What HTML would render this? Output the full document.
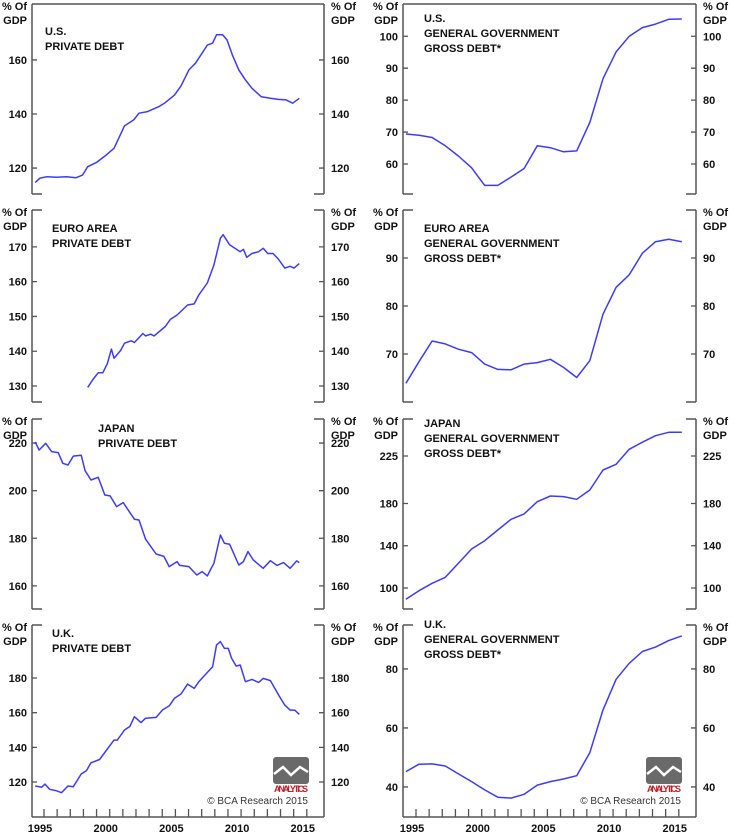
<!DOCTYPE html>
<html><head><meta charset="utf-8"><style>
html,body{margin:0;padding:0;background:#fff;}
svg{display:block;font-family:"Liberation Sans",Arial,sans-serif;}
</style></head><body>
<svg id="chart" width="733" height="834" viewBox="0 0 733 834" xmlns="http://www.w3.org/2000/svg"></svg>
<script>
// ---- data ----
const usPrivDates=[1994.1,1994.47,1995.0,1995.7,1996.5,1997.2,1997.7,1998.1,1998.75,1999.5,2000.1,2000.9,2001.6,2002.0,2002.65,2003.5,2004.0,2004.7,2005.2,2005.8,2006.3,2007.2,2007.6,2007.9,2008.36,2008.7,2009.1,2009.6,2010.1,2010.6,2011.3,2012.0,2012.6,2013.2,2013.7,2014.2];
const usPrivValues=[114.6,116.3,116.8,116.6,116.8,116.4,117.4,120.5,122,124.8,127.3,135.6,137.8,140.3,140.9,142.7,144.2,147,150.4,156.3,158.8,165.5,166.2,169.3,169.3,167.4,161.9,156.3,152.6,149.5,146.4,145.8,145.4,145.2,144,145.8];
const euPrivDates=[1998.1,1998.5,1998.9,1999.25,1999.6,1999.9,2000.1,2000.6,2000.9,2001.4,2001.65,2002.3,2002.5,2002.9,2003.15,2004.0,2004.4,2004.9,2005.7,2006.2,2006.55,2007.2,2007.7,2008.2,2008.4,2008.9,2009.7,2009.95,2010.2,2010.6,2011.1,2011.45,2011.8,2012.2,2012.6,2013.1,2013.5,2013.8,2014.2];
const euPrivValues=[129.6,131.9,133.8,133.8,136.5,140.6,138,140.2,142.3,143,142.5,145.1,144.4,144.9,144.4,147.1,149.2,150.4,153.3,153.6,156.2,159.6,164.8,172.5,173.5,170.6,168.6,169.3,167,168.1,168.6,169.6,168.1,168.1,166.5,163.9,164.4,163.9,165.2];
const jpPrivDates=[1994.1,1994.4,1994.9,1995.35,1995.85,1996.2,1996.6,1997.0,1997.6,1997.9,1998.35,1998.9,1999.4,1999.8,2000.3,2000.8,2001.65,2002.0,2002.5,2003.3,2003.9,2004.3,2004.9,2005.1,2005.8,2006.4,2006.8,2007.2,2007.7,2008.2,2008.5,2008.9,2009.6,2009.95,2010.3,2010.7,2011.45,2012.0,2012.5,2013.0,2013.5,2014.0,2014.2];
const jpPrivValues=[220.5,217.1,219.9,216.4,216,211.5,210.8,214.5,214.9,208.4,204.5,205.6,198.2,197.8,193.3,195,188,187.7,179.6,173.4,172.4,168.1,170.2,168.6,168.1,164.6,166,164.2,169.5,181.4,177.9,177.5,168.8,170.2,174.4,170.9,167.4,170.6,168.6,169.8,167.4,170.5,169.8];
const ukPrivDates=[1994.1,1994.6,1994.85,1995.2,1995.7,1996.1,1996.6,1997.0,1997.6,1998.0,1998.35,1999.0,2000.1,2000.35,2000.9,2001.3,2001.65,2002.15,2002.5,2003.3,2003.8,2004.3,2004.7,2005.2,2005.7,2006.2,2006.55,2007.6,2007.9,2008.2,2008.5,2008.8,2009.05,2009.4,2009.7,2010.1,2010.6,2011.1,2011.45,2012.0,2012.7,2013.1,2013.5,2013.85,2014.2];
const ukPrivValues=[117.7,117,118.8,115.8,115,113.8,117.7,117.3,124.6,126.5,131.1,133,144.2,144.2,150,152,157.7,154.3,156.8,157.3,161.6,163.9,168.3,170.8,176.5,174,177.8,186.5,199,201,197.1,197.1,191.4,186.9,187.5,177.9,179.2,177.5,179.8,178.5,169.2,164.4,161.5,161.5,159];
const govYears=[1994,1995,1996,1997,1998,1999,2000,2001,2002,2003,2004,2005,2006,2007,2008,2009,2010,2011,2012,2013,2014,2015];
const usGovValues=[69.4,69.0,68.3,65.7,62.5,58.8,53.3,53.3,55.9,58.6,65.7,65.1,63.8,64.1,73.0,86.7,95.1,100.0,102.7,103.8,105.3,105.4];
const euGovValues=[63.9,68.4,72.7,72.1,71.0,70.3,67.9,66.8,66.7,67.9,68.2,68.9,67.2,65.1,68.6,78.3,83.9,86.5,91.0,93.4,93.9,93.4];
const jpGovValues=[89.3,97.4,104.4,110.1,123.4,136.9,144.8,154.9,165.0,170.1,181.7,187.1,186.5,184.0,192.8,211.7,217.1,231.3,238.0,244.2,247.4,247.4];
const ukGovValues=[45.2,47.7,47.8,47.1,44.4,41.8,39.0,36.5,36.2,37.5,40.6,41.8,42.7,43.8,51.6,66.1,76.5,81.9,85.9,87.4,89.6,91.2];
const usPrivTicks=[120,140,160];
const euPrivTicks=[130,140,150,160,170];
const jpPrivTicks=[160,180,200,220];
const ukPrivTicks=[120,140,160,180];
const usGovTicks=[60,70,80,90,100];
const euGovTicks=[70,80,90];
const jpGovTicks=[100,140,180,225];
const ukGovTicks=[40,60,80];
const yearLabels=[1995,2000,2005,2010,2015];

// ---- layout ----
const svg=document.getElementById('chart');
const NS='http://www.w3.org/2000/svg';
const cols=[{x0:32,x1:324,origin:47},{x0:403,x1:696,origin:419}];
const rows=[{top:4,bottom:194},{top:210,bottom:402},{top:419,bottom:609},{top:625,bottom:817}];
const PXYEAR=13.14;
function xT(col,t){return cols[col].origin+(t-1995)*PXYEAR;}
function mk(tag,attrs,parent){const e=document.createElementNS(NS,tag);for(const k in attrs)e.setAttribute(k,attrs[k]);(parent||svg).appendChild(e);return e;}
function txt(s,x,y,anchor,size,weight,fill,parent){const t=mk('text',{x:x,y:y,'text-anchor':anchor,'font-size':size,'font-weight':weight,fill:fill},parent);t.textContent=s;return t;}

const panels=[
 {name:'us-private-debt',col:0,row:0,dom:[110.4,180.7],ticks:usPrivTicks,dates:usPrivDates,vals:usPrivValues,title:['U.S.','PRIVATE DEBT'],tx:45,ty:[35,50]},
 {name:'us-government-debt',col:1,row:0,dom:[50.6,110.1],ticks:usGovTicks,dates:govYears,vals:usGovValues,title:['U.S.','GENERAL GOVERNMENT','GROSS DEBT*'],tx:424,ty:[22,37,52]},
 {name:'euro-private-debt',col:0,row:1,dom:[125.4,180.6],ticks:euPrivTicks,dates:euPrivDates,vals:euPrivValues,title:['EURO AREA','PRIVATE DEBT'],tx:52,ty:[232,247]},
 {name:'euro-government-debt',col:1,row:1,dom:[60,100],ticks:euGovTicks,dates:govYears,vals:euGovValues,title:['EURO AREA','GENERAL GOVERNMENT','GROSS DEBT*'],tx:424,ty:[232,247,262]},
 {name:'japan-private-debt',col:0,row:2,dom:[150.3,230.1],ticks:jpPrivTicks,dates:jpPrivDates,vals:jpPrivValues,title:['JAPAN','PRIVATE DEBT'],tx:98,ty:[432,447]},
 {name:'japan-government-debt',col:1,row:2,dom:[80.1,260],ticks:jpGovTicks,dates:govYears,vals:jpGovValues,title:['JAPAN','GENERAL GOVERNMENT','GROSS DEBT*'],tx:424,ty:[427,442,457]},
 {name:'uk-private-debt',col:0,row:3,dom:[99.8,210.6],ticks:ukPrivTicks,dates:ukPrivDates,vals:ukPrivValues,title:['U.K.','PRIVATE DEBT'],tx:52,ty:[637,652]},
 {name:'uk-government-debt',col:1,row:3,dom:[29.8,94.9],ticks:ukGovTicks,dates:govYears,vals:ukGovValues,title:['U.K.','GENERAL GOVERNMENT','GROSS DEBT*'],tx:424,ty:[628,643,658]}
];
const AX='#555';
panels.forEach(p=>{
  const c=cols[p.col], r=rows[p.row];
  const g=mk('g',{});
  
  
  const y=v=>r.bottom-(v-p.dom[0])/(p.dom[1]-p.dom[0])*(r.bottom-r.top);
  // frame
  const fr=mk('path',{d:`M${c.x0},${r.top}V${r.bottom}M${c.x1},${r.top}V${r.bottom}`,stroke:AX,'stroke-width':1.5,fill:'none'},g);
  
  
  let stubs;
  if(p.row===0) stubs=`M${c.x0},${r.top}H${c.x1}`;
  else stubs=`M${c.x0},${r.top}h10M${c.x1},${r.top}h-10`;
  if(p.row<3) stubs+=`M${c.x0},${r.bottom}h10M${c.x1},${r.bottom}h-10`;
  else stubs+=`M${c.x0},${r.bottom}H${c.x1}`;
  mk('path',{d:stubs,stroke:AX,'stroke-width':1.5,fill:'none'},g);
  // y ticks & labels
  p.ticks.forEach(v=>{
    const yy=y(v);
    mk('path',{d:`M${c.x0},${yy}h5M${c.x1},${yy}h-5`,stroke:AX,'stroke-width':1.3},g);
    const l=txt(String(v),c.x0-5,yy+4,'end',11,'bold','#111',g);
    
    
    const rl=txt(String(v),c.x1+7,yy+4,'start',11,'bold','#111',g);
    
    
  });
  // unit labels
  const u1=txt('% Of',c.x0-5,r.top+6,'end',11,'bold','#111',g);
  
  
  txt('GDP',c.x0-5,r.top+20,'end',11,'bold','#111',g);
  const u2=txt('% Of',c.x1+7,r.top+6,'start',11,'bold','#111',g);
  
  
  txt('GDP',c.x1+7,r.top+20,'start',11,'bold','#111',g);
  // title
  p.title.forEach((s,i)=>{
    const t=txt(s,p.tx,p.ty[i],'start',11,'bold','#111',g);
    
    
  });
  // line
  const d=p.dates.map((t,i)=>(i?'L':'M')+xT(p.col,t).toFixed(1)+','+y(p.vals[i]).toFixed(1)).join('');
  const ln=mk('path',{d:d,stroke:'#3b3bff','stroke-width':1.5,fill:'none','stroke-linejoin':'round'},g);
  
  
  // bottom axis
  if(p.row===3){
    for(let Y=1995;Y<=2015;Y++){
      const xx=xT(p.col,Y)-3;
      mk('path',{d:`M${xx},${r.bottom}v-8`,stroke:AX,'stroke-width':1.3},g);
    }
    yearLabels.forEach(Y=>{
      const l=txt(String(Y),xT(p.col,Y)-7,832,'middle',11,'bold','#111',g);
      
      
    });
    // logo
    const lx=p.col===0?273:646, ly=757;
    const lg=mk('g',{},g);
    
    
    mk('rect',{x:lx,y:ly,width:36,height:27,rx:3,fill:'#6a6a6a'},lg);
    mk('path',{d:`M${lx+1},${ly+17}l9,-7l8,8l9,-8l8,5`,stroke:'#fff','stroke-width':2.5,fill:'none'},lg);
    txt('ANALYTICS',lx+18,ly+35,'middle',9,'bold','#c0202a',lg).setAttribute('textLength','34');
    const cp=txt('© BCA Research 2015',lx+35,804,'end',10,'normal','#333',g);
    
    
  }
});
</script>
</body></html>
